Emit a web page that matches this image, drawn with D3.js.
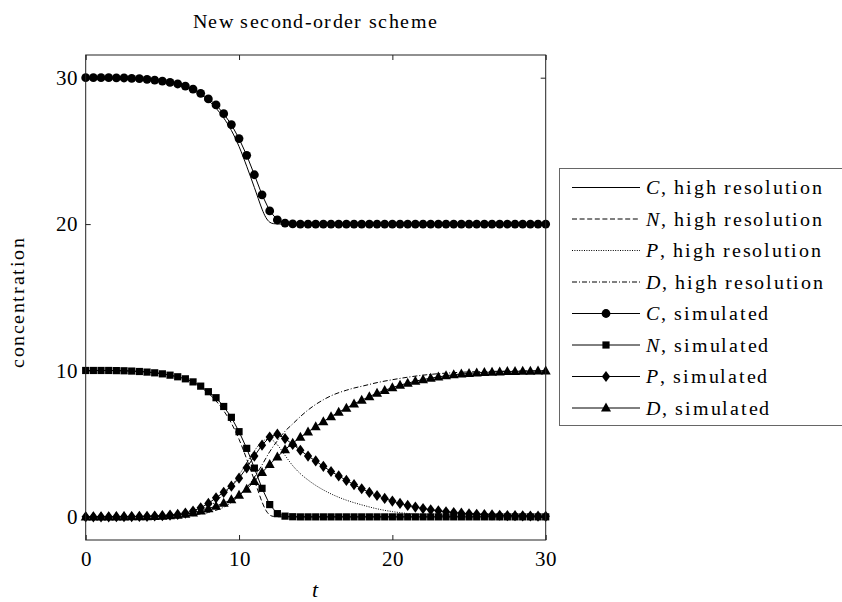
<!DOCTYPE html>
<html>
<head>
<meta charset="utf-8">
<script src="https://cdn.jsdelivr.net/npm/d3@7/dist/d3.min.js"></script>
<style>
  @font-face {
    font-family: "PlotSerif";
    src: local("Liberation Serif"), local("LiberationSerif"), local("LiberationSerif-Regular"),
         local("DejaVu Serif"), local("DejaVuSerif"), local("Noto Serif"), local("NotoSerif-Regular"),
         local("Times New Roman"), local("TimesNewRomanPSMT");
    font-style: normal;
  }
  @font-face {
    font-family: "PlotSerif";
    src: local("Liberation Serif Italic"), local("LiberationSerif-Italic"),
         local("DejaVu Serif Italic"), local("DejaVuSerif-Italic"), local("Noto Serif Italic"),
         local("NotoSerif-Italic"), local("Times New Roman Italic");
    font-style: italic;
  }
  html, body { margin: 0; padding: 0; background: #fff; }
  svg { display: block; }
</style>
</head>
<body>
<svg id="chart" width="842" height="602"></svg>
<script>
// ---- data -------------------------------------------------------------
// simulated solution, sampled every 0.5 time units from t = 0 to t = 30
const tSim = d3.range(0, 30.25, 0.5);

const cSim = [30, 30, 30, 30, 29.99, 29.98, 29.96, 29.93, 29.89, 29.84,
  29.77, 29.68, 29.57, 29.43, 29.22, 28.93, 28.55, 28.14, 27.54, 26.8,
  25.84, 24.7, 23.37, 22.0, 20.9, 20.28, 20.07, 20.02, 20, 20,
  20, 20, 20, 20, 20, 20, 20, 20, 20, 20,
  20, 20, 20, 20, 20, 20, 20, 20, 20, 20,
  20, 20, 20, 20, 20, 20, 20, 20, 20, 20,
  20];

const nSim = [10, 10, 10, 10, 9.99, 9.98, 9.96, 9.93, 9.89, 9.84,
  9.77, 9.68, 9.57, 9.43, 9.22, 8.93, 8.55, 8.14, 7.54, 6.8,
  5.82, 4.68, 3.33, 1.95, 0.84, 0.22, 0.05, 0.01, 0, 0,
  0, 0, 0, 0, 0, 0, 0, 0, 0, 0,
  0, 0, 0, 0, 0, 0, 0, 0, 0, 0,
  0, 0, 0, 0, 0, 0, 0, 0, 0, 0,
  0];

const pSim = [0, 0, 0, 0, 0.01, 0.01, 0.02, 0.03, 0.04, 0.06,
  0.08, 0.12, 0.17, 0.26, 0.4, 0.62, 0.92, 1.3, 1.68, 2.1,
  2.64, 3.35, 4.15, 4.9, 5.45, 5.65, 5.35, 4.95, 4.55, 4.15,
  3.82, 3.45, 3.1, 2.8, 2.49, 2.2, 1.92, 1.67, 1.46, 1.26,
  1.08, 0.92, 0.78, 0.67, 0.57, 0.48, 0.41, 0.35, 0.29, 0.25,
  0.21, 0.18, 0.15, 0.13, 0.11, 0.09, 0.08, 0.07, 0.06, 0.05,
  0.04];

const dSim = [0, 0, 0, 0, 0, 0, 0.01, 0.01, 0.02, 0.03,
  0.05, 0.08, 0.12, 0.18, 0.27, 0.4, 0.56, 0.74, 0.94, 1.17,
  1.48, 1.9, 2.42, 3.03, 3.58, 4.1, 4.6, 5.03, 5.44, 5.8,
  6.17, 6.51, 6.85, 7.15, 7.43, 7.72, 7.97, 8.22, 8.45, 8.64,
  8.83, 9.0, 9.13, 9.27, 9.38, 9.47, 9.56, 9.64, 9.71, 9.76,
  9.8, 9.84, 9.87, 9.89, 9.91, 9.93, 9.94, 9.95, 9.96, 9.97,
  9.97];

// high resolution reference solution
const tHiCN = [0, 1, 2, 3, 4, 5, 6, 6.5, 7, 7.5, 8, 8.5, 9, 9.5, 10, 10.5,
  11, 11.25, 11.5, 11.75, 12, 12.25, 12.5, 13, 14, 20, 30];
const cHi = [30, 30, 29.99, 29.96, 29.9, 29.78, 29.55, 29.38, 29.15, 28.85,
  28.45, 27.92, 27.25, 26.4, 25.3, 23.95, 22.5, 21.75, 21.02, 20.45,
  20.13, 20.03, 20.01, 20, 20, 20, 20];
const nHi = [10, 10, 9.99, 9.96, 9.9, 9.78, 9.55, 9.38, 9.15, 8.85,
  8.45, 7.92, 7.25, 6.4, 5.3, 3.95, 2.5, 1.75, 1.02, 0.45,
  0.13, 0.03, 0.01, 0, 0, 0, 0];

const tHiP = [0, 2, 4, 5, 6, 7, 7.5, 8, 8.5, 9, 9.5, 10, 10.5, 11, 11.5, 12,
  12.5, 13, 13.5, 14, 14.5, 15, 15.5, 16, 16.5, 17, 17.5, 18, 19, 20, 21,
  22, 23, 24, 25, 26, 28, 30];
const pHi = [0, 0, 0.02, 0.05, 0.12, 0.3, 0.46, 0.7, 1.05, 1.55, 2.1, 2.85,
  3.7, 4.5, 5.15, 5.32, 4.92, 4.2, 3.5, 2.95, 2.52, 2.15, 1.84, 1.57, 1.34,
  1.14, 0.97, 0.82, 0.55, 0.36, 0.23, 0.14, 0.09, 0.05, 0.03, 0.02, 0.01, 0];

const tHiD = [0, 4, 5, 6, 7, 7.5, 8, 8.5, 9, 9.5, 10, 10.5, 11, 11.5, 12,
  12.5, 13, 13.5, 14, 14.5, 15, 15.5, 16, 17, 17.5, 18, 19, 20, 21, 22, 23,
  24, 25, 26, 28, 30];
const dHi = [0, 0.01, 0.02, 0.05, 0.12, 0.2, 0.3, 0.45, 0.66, 0.98, 1.45,
  2.0, 2.7, 3.55, 4.45, 5.2, 5.85, 6.35, 6.85, 7.3, 7.68, 8.0, 8.27, 8.65,
  8.8, 8.92, 9.17, 9.37, 9.54, 9.68, 9.78, 9.85, 9.9, 9.93, 9.96, 9.98];

const xTicks = [0, 10, 20, 30];
const yTicks = [0, 10, 20, 30];

const titleText = "New second-order scheme";
const xLabel = "t";
const yLabel = "concentration";

const FONT = '"PlotSerif", "Liberation Serif", "DejaVu Serif", serif';

// ---- layout -----------------------------------------------------------
const svg = d3.select("#chart").style("font-family", FONT);
const plot = { left: 85.7, right: 545.7, top: 55, bottom: 540 };

const x = d3.scaleLinear().domain([0, 30]).range([plot.left, plot.right]);
const y = d3.scaleLinear().domain([-1.58, 31.55]).range([plot.bottom, plot.top]);

const hiSeries = [
  { name: "C", t: tHiCN, v: cHi, dash: null },
  { name: "N", t: tHiCN, v: nHi, dash: "5,2.6" },
  { name: "P", t: tHiP, v: pHi, dash: "1,1.4" },
  { name: "D", t: tHiD, v: dHi, dash: "5,2,1,2" }
];
const simSeries = [
  { name: "C", v: cSim, marker: "circle" },
  { name: "N", v: nSim, marker: "square" },
  { name: "P", v: pSim, marker: "diamond" },
  { name: "D", v: dSim, marker: "triangle" }
];

// marker shapes centred on (0,0)
function markerPath(kind) {
  switch (kind) {
    case "circle": return d3.symbol(d3.symbolCircle, Math.PI * 4.4 * 4.4)();
    case "square": return "M-3.6,-3.6H3.6V3.6H-3.6Z";
    case "diamond": return "M0,-5.6L4.1,0L0,5.6L-4.1,0Z";
    case "triangle": return "M0,-5.4L5,3.6L-5,3.6Z";
  }
}

// spread letters so a text run spans a given width
function spreadTo(sel, width) {
  sel.style("letter-spacing", null);
  const node = sel.node();
  const n = node.getNumberOfChars();
  const w = node.getComputedTextLength();
  const ls = (width - w) / Math.max(1, n - 1);
  sel.style("letter-spacing", ls.toFixed(2) + "px");
  return ls;
}

// ---- title and axis labels -------------------------------------------
const title = svg.append("text")
  .attr("x", 193).attr("y", 28)
  .style("font-size", "20px")
  .attr("fill", "#000")
  .text(titleText);

svg.append("text")
  .attr("x", 315).attr("y", 597)
  .attr("text-anchor", "middle")
  .style("font-size", "22px")
  .style("font-style", "italic")
  .attr("fill", "#000")
  .text(xLabel);

const yl = svg.append("text")
  .attr("transform", "translate(24,368) rotate(-90)")
  .style("font-size", "20px")
  .attr("fill", "#000")
  .text(yLabel);

// ---- axes (ticks point inward on all four sides) ----------------------
const tickLen = 5;
const gx = svg.append("g")
  .attr("transform", `translate(0,${plot.bottom})`)
  .call(d3.axisBottom(x).tickValues(xTicks).tickFormat(d3.format("d"))
    .tickSizeInner(-tickLen).tickSizeOuter(0).tickPadding(11));
const gy = svg.append("g")
  .attr("transform", `translate(${plot.left},0)`)
  .call(d3.axisLeft(y).tickValues(yTicks).tickFormat(d3.format("d"))
    .tickSizeInner(-tickLen).tickSizeOuter(0).tickPadding(8));
const gxt = svg.append("g")
  .attr("transform", `translate(0,${plot.top})`)
  .call(d3.axisTop(x).tickValues(xTicks).tickFormat("")
    .tickSizeInner(-tickLen).tickSizeOuter(0));
const gyr = svg.append("g")
  .attr("transform", `translate(${plot.right},0)`)
  .call(d3.axisRight(y).tickValues(yTicks).tickFormat("")
    .tickSizeInner(-tickLen).tickSizeOuter(0));

[gx, gy, gxt, gyr].forEach(g => {
  g.attr("font-family", FONT).attr("font-size", 21);
  g.select(".domain").remove();
  g.selectAll(".tick line").attr("stroke", "#222").attr("stroke-width", 1);
  g.selectAll(".tick text").attr("fill", "#000");
});

// ---- high resolution curves -------------------------------------------
const hiLine = d3.line()
  .x(d => x(d[0])).y(d => y(d[1]))
  .curve(d3.curveMonotoneX);

svg.append("g").selectAll("path")
  .data(hiSeries)
  .join("path")
  .attr("d", s => hiLine(s.t.map((t, i) => [t, s.v[i]])))
  .attr("fill", "none")
  .attr("stroke", "#000")
  .attr("stroke-width", 1)
  .attr("stroke-dasharray", s => s.dash);

// ---- simulated series: thin line plus markers -------------------------
const simLine = d3.line().x(d => x(d[0])).y(d => y(d[1]));

const simG = svg.append("g").selectAll("g")
  .data(simSeries)
  .join("g");

simG.append("path")
  .attr("d", s => simLine(tSim.map((t, i) => [t, s.v[i]])))
  .attr("fill", "none")
  .attr("stroke", "#000")
  .attr("stroke-width", 1);

simG.each(function (s) {
  d3.select(this).selectAll("path.mk")
    .data(tSim.map((t, i) => [t, s.v[i]]))
    .join("path")
    .attr("class", "mk")
    .attr("d", markerPath(s.marker))
    .attr("transform", d => `translate(${x(d[0])},${y(d[1])})`)
    .attr("fill", "#000");
});

// ---- frame ------------------------------------------------------------
svg.append("rect")
  .attr("x", plot.left).attr("y", plot.top)
  .attr("width", plot.right - plot.left)
  .attr("height", plot.bottom - plot.top)
  .attr("fill", "none")
  .attr("stroke", "#222")
  .attr("stroke-width", 1);

// ---- legend -----------------------------------------------------------
const legendItems = [
  ...hiSeries.map(s => ({ name: s.name, suffix: ", high resolution", dash: s.dash, marker: null })),
  ...simSeries.map(s => ({ name: s.name, suffix: ", simulated", dash: null, marker: s.marker }))
];

const legend = svg.append("g");
legend.append("rect")
  .attr("x", 559.5).attr("y", 168.5)
  .attr("width", 320).attr("height", 257)
  .attr("fill", "#fff")
  .attr("stroke", "#666")
  .attr("stroke-width", 1);

const rowY = i => 187.5 + i * 31.5;
const rows = legend.selectAll("g.row")
  .data(legendItems)
  .join("g")
  .attr("class", "row")
  .attr("transform", (d, i) => `translate(0,${rowY(i)})`);

rows.append("line")
  .attr("x1", 572).attr("x2", 640)
  .attr("y1", 0).attr("y2", 0)
  .attr("stroke", "#000")
  .attr("stroke-width", 1)
  .attr("stroke-dasharray", d => d.dash);

rows.filter(d => d.marker)
  .append("path")
  .attr("d", d => markerPath(d.marker))
  .attr("transform", "translate(606,0)")
  .attr("fill", "#000");

const lt = rows.append("text")
  .attr("x", 646).attr("y", 0).attr("dy", "0.34em")
  .style("font-size", "20px")
  .attr("fill", "#000");
lt.append("tspan").style("font-style", "italic").text(d => d.name);
lt.append("tspan").text(d => d.suffix);

// fit text widths once the faces are ready
function fitText() {
  spreadTo(title, 244);
  spreadTo(yl, 130);
  lt.style("letter-spacing", null);
  const ls = spreadTo(lt.filter((d, i) => i === 0), 176);
  lt.style("letter-spacing", ls.toFixed(2) + "px");
}
fitText();
if (document.fonts && document.fonts.ready) document.fonts.ready.then(fitText);
</script>
</body>
</html>
